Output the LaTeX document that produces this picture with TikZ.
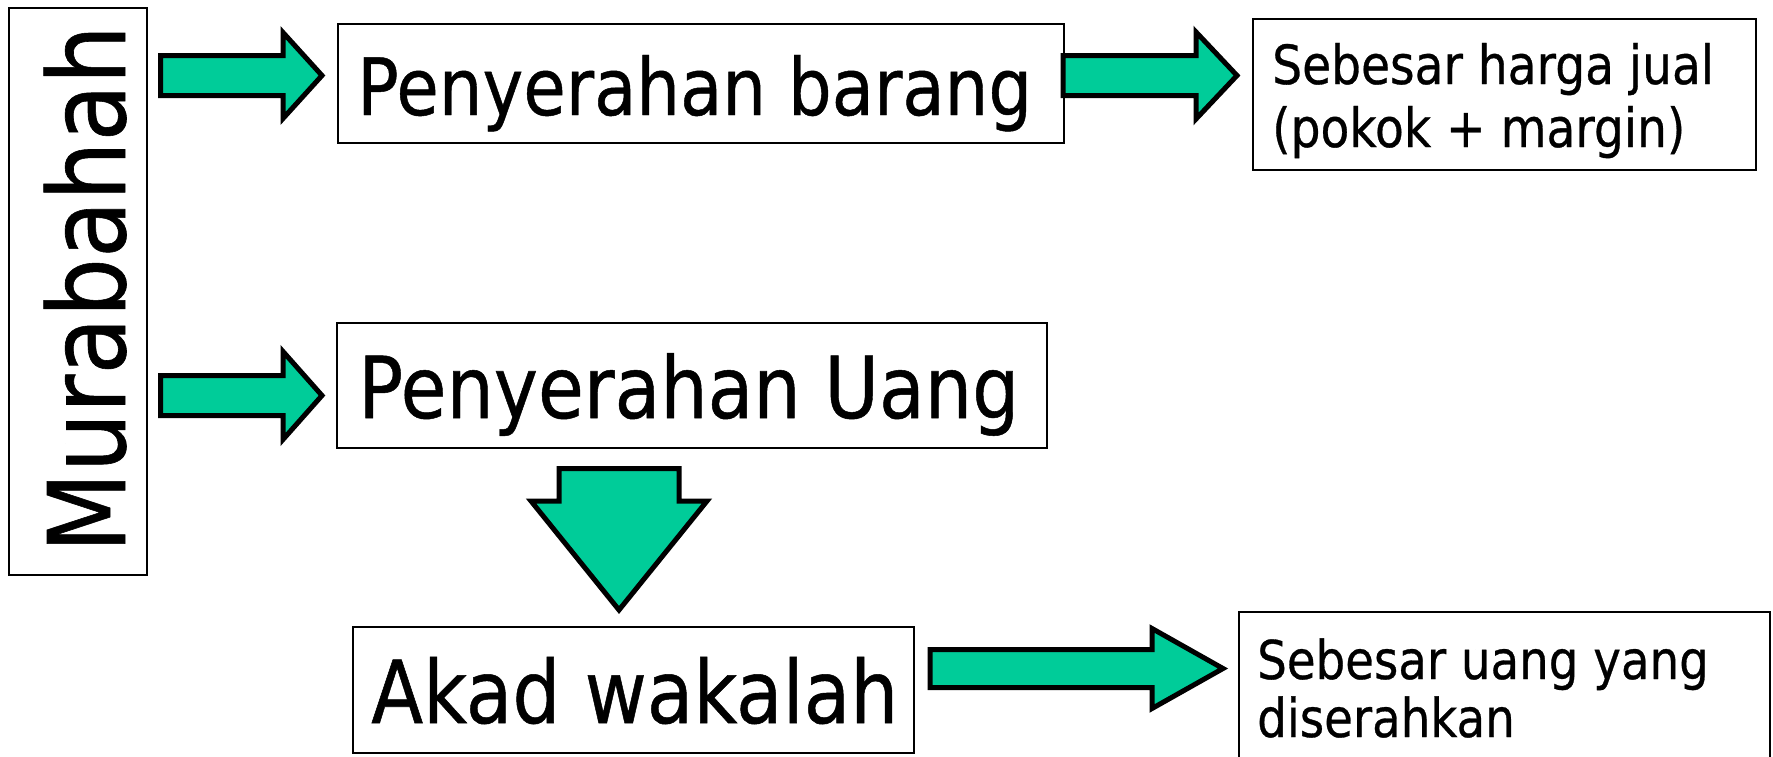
\documentclass[tikz,border=0pt]{standalone}
\usepackage{fontspec}
\setmainfont[FakeBold=0.6]{DejaVu Sans}
\usepackage{graphicx}
\definecolor{arrowgreen}{HTML}{00CC99}
\newcommand\tah[2]{{\fontsize{#1}{#1}\selectfont\scalebox{0.873}[1]{#2}}}
\newcommand\rarrow[6]{% x1 x2 x3 yc hs hh
  \draw[blockarrow] (#1,#4-#5) -- (#2,#4-#5) -- (#2,#4-#6) -- (#3,#4) -- (#2,#4+#6) -- (#2,#4+#5) -- (#1,#4+#5) -- cycle;}
\newcommand\darrow[6]{% xc y1 y2 y3 hs hh
  \draw[blockarrow] (#1-#5,#2) -- (#1+#5,#2) -- (#1+#5,#3) -- (#1+#6,#3) -- (#1,#4) -- (#1-#6,#3) -- (#1-#5,#3) -- cycle;}
\tikzset{
  box/.style={draw=black, line width=2.5pt, fill=white, inner sep=0pt},
  lbl/.style={inner sep=0pt, anchor=base west},
  blockarrow/.style={draw=black, line width=5pt, fill=arrowgreen, line join=miter, miter limit=10},
}
\begin{document}
\begin{tikzpicture}[x=1pt,y=-1pt]
\useasboundingbox (0,0) rectangle (1773,756);
\fill[white] (0,0) rectangle (1773,756);
% boxes
\node[box, minimum width=138pt, minimum height=567pt] (mur) at (78,291.5) {};
\node[box, minimum width=726pt, minimum height=119pt] (pb) at (701,83.5) {};
\node[box, minimum width=710pt, minimum height=125pt] (pu) at (692,385.5) {};
\node[box, minimum width=561pt, minimum height=126pt] (aw) at (633.5,690) {};
\node[box, minimum width=503pt, minimum height=151pt] (shj) at (1504.5,94.5) {};
\node[box, minimum width=531pt, minimum height=158pt] (suy) at (1504.5,691) {};
% texts
\node[lbl, rotate=90] (murt) at (125,553) {\tah{107}{Murabahah}};
\node[lbl] (pbt) at (357,115) {\tah{79}{Penyerahan barang}};
\node[lbl] (put) at (358,418) {\tah{85.5}{Penyerahan Uang}};
\node[lbl] (awt) at (371,723) {\tah{87}{Akad wakalah}};
\node[lbl] (shj1) at (1272,84) {\tah{54}{Sebesar harga jual}};
\node[lbl] (shj2) at (1272,147) {\tah{54}{(pokok + margin)}};
\node[lbl] (suy1) at (1257,679) {\tah{53.5}{Sebesar uang yang}};
\node[lbl] (suy2) at (1257,737) {\tah{53.5}{diserahkan}};
% block arrows
\rarrow{160.5}{283}{322}{75.5}{20}{43}
\rarrow{160.5}{283}{322}{395.5}{20}{44}
\rarrow{1063}{1196}{1237}{75.5}{20}{43.5}
\rarrow{930}{1152}{1223}{668.5}{19}{40}
\darrow{619}{468.5}{501}{610}{60}{88}
\end{tikzpicture}
\end{document}
